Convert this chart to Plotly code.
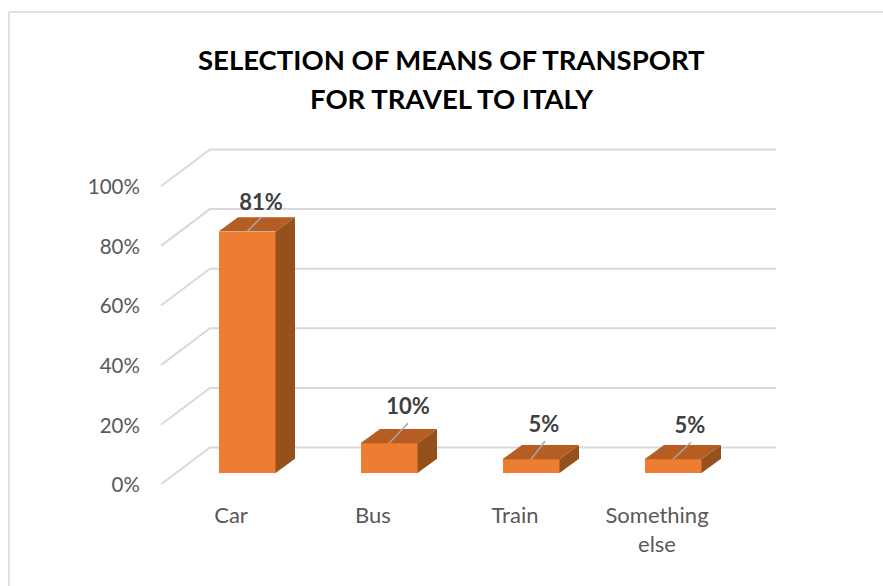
import plotly.graph_objects as go

categories = ["Car", "Bus", "Train", "Something<br>else"]
values = [81, 10, 4.6, 4.6]
wall_ticks = [0, 20, 40, 60, 80, 100]
title_lines = ["SELECTION OF MEANS OF TRANSPORT", "FOR TRAVEL TO ITALY"]

W, H = 883, 586
FONT = "Lato, Carlito, sans-serif"

# Projection constants: 1 category = 142 px, 1 % = 2.98 px
CAT_PX, VAL_PX = 142.0, 2.98
X0_PX, Y0_PX = 247.0, 473.0
x_range = [-X0_PX / CAT_PX, (W - X0_PX) / CAT_PX]
y_range = [(Y0_PX - H) / VAL_PX, Y0_PX / VAL_PX]

BAR_W = 57 / CAT_PX
DX, DY = 19.5 / CAT_PX, 14.3 / VAL_PX          # bar depth
WALL_L, WALL_B, WALL_R = -0.606, -0.261, 3.725  # grid x stops
WALL_FRONT, WALL_BACK = -3.8, 8.56               # grid y shifts
LEAD_DX = [14 / CAT_PX, 19 / CAT_PX, 14 / CAT_PX, 18 / CAT_PX]
LEAD_DY = [14 / VAL_PX, 20 / VAL_PX, 18 / VAL_PX, 17 / VAL_PX]
LABEL_GAP = [2 / VAL_PX, 4 / VAL_PX, 4 / VAL_PX, 4 / VAL_PX]
LABEL_DX = [0, 0, -1 / CAT_PX, -1 / CAT_PX]

fig = go.Figure()

# back wall and side gridlines (base axes, under the bars)
for t in wall_ticks:
    fig.add_trace(go.Scatter(
        x=[WALL_L, WALL_B, WALL_R],
        y=[t + WALL_FRONT, t + WALL_BACK, t + WALL_BACK],
        mode="lines", line=dict(color="#D9D9D9", width=2),
        hoverinfo="skip", showlegend=False))

# front faces
fig.add_trace(go.Bar(
    x=list(range(len(values))), y=values, width=BAR_W,
    marker=dict(color="#ED7D31", line=dict(width=0)),
    xaxis="x2", yaxis="y2", showlegend=False))

# top and side faces, derived from each value
for i, v in enumerate(values):
    l, r = i - BAR_W / 2, i + BAR_W / 2
    fig.add_trace(go.Scatter(
        x=[l, r, r + DX, l + DX, l], y=[v, v, v + DY, v + DY, v],
        mode="lines", fill="toself", fillcolor="#B55D22", line=dict(width=0),
        xaxis="x2", yaxis="y2", hoverinfo="skip", showlegend=False))
    fig.add_trace(go.Scatter(
        x=[r, r + DX, r + DX, r, r], y=[0, DY, v + DY, v, 0],
        mode="lines", fill="toself", fillcolor="#95501C", line=dict(width=0),
        xaxis="x2", yaxis="y2", hoverinfo="skip", showlegend=False))

# leader lines and data labels
for i, v in enumerate(values):
    fig.add_trace(go.Scatter(
        x=[i, i + LEAD_DX[i]], y=[v, v + LEAD_DY[i]],
        mode="lines", line=dict(color="#A6A6A6", width=1.5),
        xaxis="x2", yaxis="y2", hoverinfo="skip", showlegend=False))
    fig.add_trace(go.Scatter(
        x=[i + LEAD_DX[i] + LABEL_DX[i]], y=[v + LEAD_DY[i] + LABEL_GAP[i]],
        mode="text", text=[f"{v:.0f}%"], textposition="top center",
        textfont=dict(family=FONT, size=22, color="#404040", weight="bold"),
        xaxis="x2", yaxis="y2", hoverinfo="skip", showlegend=False))

# invisible carrier for the tick-label axes
fig.add_trace(go.Scatter(
    x=categories, y=[0] * len(categories), mode="markers",
    marker=dict(opacity=0), xaxis="x3", yaxis="y3",
    hoverinfo="skip", showlegend=False))

hidden = dict(visible=False, fixedrange=True)
fig.update_layout(
    width=W, height=H, autosize=False,
    margin=dict(l=0, r=0, t=0, b=0, pad=0, autoexpand=False),
    paper_bgcolor="white", plot_bgcolor="rgba(0,0,0,0)",
    font=dict(family=FONT),
    bargap=0,
    xaxis=dict(range=x_range, domain=[0, 1], **hidden),
    yaxis=dict(range=y_range, domain=[0, 1], **hidden),
    xaxis2=dict(range=x_range, domain=[0, 1], overlaying="x", **hidden),
    yaxis2=dict(range=y_range, domain=[0, 1], overlaying="y", **hidden),
    xaxis3=dict(
        type="category", categoryorder="array",
        categoryarray=categories, range=[-0.5, 3.5],
        domain=[160 / W, 728 / W], anchor="y3", showgrid=False, zeroline=False,
        showline=False, ticks="outside", ticklen=11, tickcolor="rgba(0,0,0,0)",
        tickfont=dict(family=FONT, size=22, color="#595959"), fixedrange=True),
    yaxis3=dict(
        range=[0, 100], domain=[1 - 485 / H, 1 - 187 / H], anchor="x3",
        tickvals=wall_ticks, ticktext=[f"{t}%" for t in wall_ticks],
        showgrid=False, zeroline=False, showline=False,
        ticks="outside", ticklen=15, tickcolor="rgba(0,0,0,0)",
        tickfont=dict(family=FONT, size=20.5, color="#595959"), fixedrange=True),
    annotations=[
        dict(text=line, x=451.5 / W, xanchor="center", xref="paper",
             y=1 - py / H, yanchor="middle", yref="paper", showarrow=False,
             font=dict(family=FONT, size=27.5, color="#000000", weight="bold"))
        for line, py in zip(title_lines, [60, 99])],
    shapes=[
        dict(type="line", xref="paper", yref="paper", x0=9 / W, x1=1,
             y0=1 - 12 / H, y1=1 - 12 / H, line=dict(color="#D9D9D9", width=1.5)),
        dict(type="line", xref="paper", yref="paper", x0=9 / W, x1=9 / W,
             y0=0, y1=1 - 12 / H, line=dict(color="#D9D9D9", width=1.5)),
    ],
)
fig.write_html("out.html", config={"displayModeBar": False},
               post_script="document.body.style.margin='0';")
